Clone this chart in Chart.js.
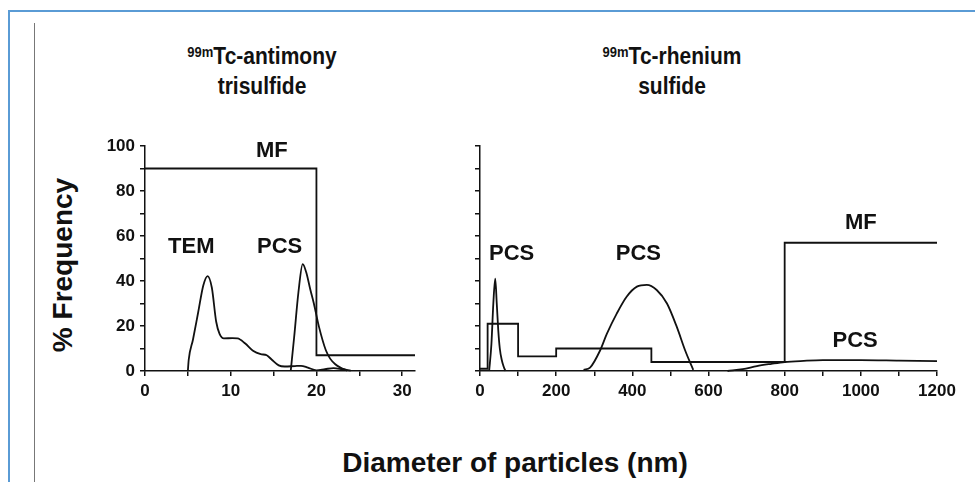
<html>
  <head>
    <style>
body {
  margin: 0;
  width: 975px;
  height: 482px;
  overflow: hidden;
  background: #fff;
  font-family: "Liberation Sans", Arial, sans-serif;
  color: #111;
  position: relative;
}

#frame {
  position: absolute;
  left: 8px;
  top: 10px;
  width: 980px;
  height: 480px;
  border-top: 2px solid #5a9bd5;
  border-left: 2px solid #5a9bd5;
}

#rule {
  position: absolute;
  left: 34px;
  top: 23px;
  width: 1px;
  height: 470px;
  background: #777;
}

.title {
  position: absolute;
  font-weight: bold;
  font-size: 21px;
  line-height: 27px;
  text-align: center;
  width: 300px;
  transform: scaleY(1.1);
}

.title sup {
  font-size: 13px;
  vertical-align: 7px;
  line-height: 0;
}

#ylabel {
  position: absolute;
  left: 63px;
  top: 265px;
  font-weight: bold;
  font-size: 28px;
  white-space: nowrap;
  transform: translate(-50%, -50%) rotate(-90deg);
}

#xlabel {
  position: absolute;
  left: 515px;
  top: 463px;
  font-weight: bold;
  font-size: 28px;
  white-space: nowrap;
  transform: translate(-50%, -50%);
}

canvas {
  position: absolute;
}
    </style>
  </head>
  <body>
    <div id="frame"></div>
    <div id="rule"></div>
    <div class="title" style="left:112px; top:44px"><sup>99m</sup>Tc-antimony<br>trisulfide</div>
    <div class="title" style="left:522px; top:44px"><sup>99m</sup>Tc-rhenium<br>sulfide</div>
    <div id="ylabel">% Frequency</div>
    <div id="xlabel">Diameter of particles (nm)</div>
    <canvas id="left" width="345" height="271" style="left:80px; top:130px"></canvas>
    <canvas id="right" width="491" height="271" style="left:470px; top:130px"></canvas>
    <script src="https://cdn.jsdelivr.net/npm/chart.js"></script>
    <script>

// antimony trisulfide panel (x in nm, y in % frequency)
const mfLeftX = [0, 20, 20, 31.5]
const mfLeftY = [90, 90, 7, 7]
const temX = [5, 5.1, 5.6, 6.2, 6.8, 7.3, 7.8, 8.3, 8.7, 9.2, 10.2, 10.8, 11.7, 12.6, 13.5, 14.2, 14.8, 15.6, 16.3, 17.5, 18.2, 19, 20, 21, 22, 23, 24]
const temY = [0, 5, 14, 26, 38, 42.2, 37, 22, 16.5, 14.5, 14.6, 14.5, 12.2, 9, 7.5, 7, 5, 2.5, 2, 2.2, 2.3, 1.5, 0.3, 0.8, 1.3, 0.8, 0.2]
const pcsLeftX = [17, 17.4, 17.9, 18.4, 18.8, 19.3, 19.7, 20.3, 21.1, 21.6, 22.2, 22.8, 23.6]
const pcsLeftY = [0, 15, 35, 47.5, 44, 36, 30, 19.6, 9.2, 5.5, 3, 1.5, 0.2]

// rhenium sulfide panel
const mfRightX = [0, 20, 20, 100, 100, 200, 200, 450, 450, 800, 800, 1200]
const mfRightY = [1, 1, 21, 21, 6.5, 6.5, 10, 10, 4, 4, 57, 57]
const pcsNarrowX = [24, 30, 35, 40, 44, 48, 52, 57, 62, 67]
const pcsNarrowY = [0, 12, 30, 41, 30, 18, 10, 5, 2, 0]
const pcsBroadX = [272, 289, 315, 333, 359, 385, 412, 438, 464, 491, 517, 539, 560]
const pcsBroadY = [0.5, 1.5, 9, 16.5, 25.5, 33, 37.5, 38.3, 36, 30, 19.5, 9, 0.5]
const pcsTailX = [650, 690, 727, 765, 800, 850, 900, 1000, 1100, 1200]
const pcsTailY = [0, 0.8, 2.2, 3.2, 4, 4.5, 4.8, 4.8, 4.6, 4.4]

// curve labels, placed in data units
const leftLabelText = ['MF', 'TEM', 'PCS']
const leftLabelX = [14.8, 5.4, 15.7]
const leftLabelY = [97.8, 55, 55]
const rightLabelText = ['PCS', 'PCS', 'MF', 'PCS']
const rightLabelX = [83, 416, 1000, 985]
const rightLabelY = [52, 52, 66, 13.5]

const FONT = '"Liberation Sans", Arial, sans-serif'
const INK = '#111'

function points(xs, ys) {
  return xs.map((x, i) => ({x: x, y: ys[i]}))
}

function curve(xs, ys) {
  return {
    data: points(xs, ys),
    borderColor: INK,
    borderWidth: 1.8,
    pointRadius: 0,
    fill: false,
    clip: false,
    cubicInterpolationMode: 'monotone'
  }
}

function steps(xs, ys) {
  return {
    data: points(xs, ys),
    borderColor: INK,
    borderWidth: 1.8,
    pointRadius: 0,
    fill: false,
    clip: false,
    tension: 0
  }
}

const curveLabels = {
  id: 'curveLabels',
  afterDatasetsDraw(chart, args, opts) {
    const ctx = chart.ctx
    const x = chart.scales.x
    const y = chart.scales.y
    ctx.save()
    ctx.font = 'bold 22px ' + FONT
    ctx.fillStyle = INK
    ctx.textAlign = 'center'
    ctx.textBaseline = 'middle'
    opts.text.forEach((t, i) => {
      ctx.fillText(t, x.getPixelForValue(opts.x[i]), y.getPixelForValue(opts.y[i]))
    })
    ctx.restore()
  }
}

function axis(min, max, step, labelEvery, size, showLabels) {
  return {
    type: 'linear',
    min: min,
    max: max,
    border: {display: true, color: INK, width: 1.5},
    grid: {drawOnChartArea: false, color: INK, lineWidth: 1.5, tickLength: 5},
    ticks: {
      autoSkip: false,
      maxRotation: 0,
      padding: 5,
      color: INK,
      font: {family: FONT, size: 17, weight: 'bold'},
      callback: v => (showLabels && v % labelEvery === 0) ? v : ''
    },
    // tick marks at every step, labels only where labelEvery divides
    afterBuildTicks: s => {
      s.ticks = []
      for (let v = min; v <= max + 1e-9; v += step) s.ticks.push({value: v})
    },
    afterFit: s => {
      if (s.isHorizontal()) s.height = size
      else s.width = size
    }
  }
}

function makeChart(id, datasets, xScale, yScale, labels, padRight) {
  return new Chart(document.getElementById(id), {
    type: 'line',
    data: {datasets: datasets},
    options: {
      responsive: false,
      animation: false,
      parsing: false,
      layout: {padding: {top: 16, right: padRight, left: 0, bottom: 0}},
      plugins: {
        legend: {display: false},
        tooltip: {enabled: false},
        curveLabels: labels
      },
      scales: {x: xScale, y: yScale}
    },
    plugins: [curveLabels]
  })
}

makeChart('left', [
  steps(mfLeftX, mfLeftY),
  curve(temX, temY),
  curve(pcsLeftX, pcsLeftY)
], axis(0, 31.5, 5, 10, 30, true), axis(0, 100, 10, 20, 65, true),
  {text: leftLabelText, x: leftLabelX, y: leftLabelY}, 10)

makeChart('right', [
  steps(mfRightX, mfRightY),
  curve(pcsNarrowX, pcsNarrowY),
  curve(pcsBroadX, pcsBroadY),
  curve(pcsTailX, pcsTailY)
], axis(0, 1200, 100, 200, 30, true), axis(0, 100, 10, 20, 10, false),
  {text: rightLabelText, x: rightLabelX, y: rightLabelY}, 24)
    </script>
  </body>
</html>
